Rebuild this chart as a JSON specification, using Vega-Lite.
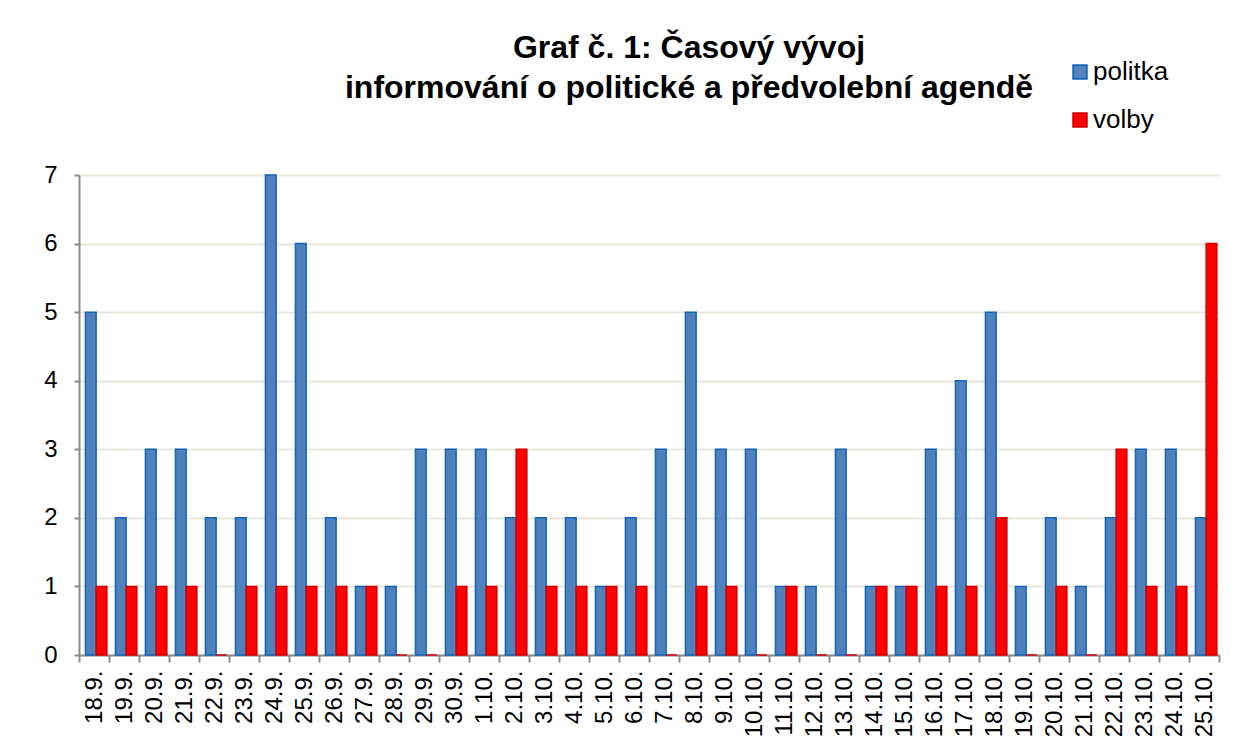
{
  "$schema": "https://vega.github.io/schema/vega-lite/v6.json",
  "width": 1140,
  "height": 480,
  "autosize": "none",
  "padding": {"left": 79, "top": 175, "right": 34, "bottom": 92},
  "background": "white",
  "config": {"font": "Liberation Sans", "view": {"stroke": null}},
  "title": {
    "text": ["Graf č. 1: Časový vývoj", "informování o politické a předvolební agendě"],
    "fontSize": 32,
    "fontWeight": "bold",
    "color": "#000000",
    "anchor": "middle",
    "frame": "group",
    "dx": 40,
    "offset": -46,
    "lineHeight": 40
  },
  "data": {
    "values": [
      {"den": "18.9.", "serie": "politka", "pocet": 5}, {"den": "18.9.", "serie": "volby", "pocet": 1},
      {"den": "19.9.", "serie": "politka", "pocet": 2}, {"den": "19.9.", "serie": "volby", "pocet": 1},
      {"den": "20.9.", "serie": "politka", "pocet": 3}, {"den": "20.9.", "serie": "volby", "pocet": 1},
      {"den": "21.9.", "serie": "politka", "pocet": 3}, {"den": "21.9.", "serie": "volby", "pocet": 1},
      {"den": "22.9.", "serie": "politka", "pocet": 2}, {"den": "22.9.", "serie": "volby", "pocet": 0},
      {"den": "23.9.", "serie": "politka", "pocet": 2}, {"den": "23.9.", "serie": "volby", "pocet": 1},
      {"den": "24.9.", "serie": "politka", "pocet": 7}, {"den": "24.9.", "serie": "volby", "pocet": 1},
      {"den": "25.9.", "serie": "politka", "pocet": 6}, {"den": "25.9.", "serie": "volby", "pocet": 1},
      {"den": "26.9.", "serie": "politka", "pocet": 2}, {"den": "26.9.", "serie": "volby", "pocet": 1},
      {"den": "27.9.", "serie": "politka", "pocet": 1}, {"den": "27.9.", "serie": "volby", "pocet": 1},
      {"den": "28.9.", "serie": "politka", "pocet": 1}, {"den": "28.9.", "serie": "volby", "pocet": 0},
      {"den": "29.9.", "serie": "politka", "pocet": 3}, {"den": "29.9.", "serie": "volby", "pocet": 0},
      {"den": "30.9.", "serie": "politka", "pocet": 3}, {"den": "30.9.", "serie": "volby", "pocet": 1},
      {"den": "1.10.", "serie": "politka", "pocet": 3}, {"den": "1.10.", "serie": "volby", "pocet": 1},
      {"den": "2.10.", "serie": "politka", "pocet": 2}, {"den": "2.10.", "serie": "volby", "pocet": 3},
      {"den": "3.10.", "serie": "politka", "pocet": 2}, {"den": "3.10.", "serie": "volby", "pocet": 1},
      {"den": "4.10.", "serie": "politka", "pocet": 2}, {"den": "4.10.", "serie": "volby", "pocet": 1},
      {"den": "5.10.", "serie": "politka", "pocet": 1}, {"den": "5.10.", "serie": "volby", "pocet": 1},
      {"den": "6.10.", "serie": "politka", "pocet": 2}, {"den": "6.10.", "serie": "volby", "pocet": 1},
      {"den": "7.10.", "serie": "politka", "pocet": 3}, {"den": "7.10.", "serie": "volby", "pocet": 0},
      {"den": "8.10.", "serie": "politka", "pocet": 5}, {"den": "8.10.", "serie": "volby", "pocet": 1},
      {"den": "9.10.", "serie": "politka", "pocet": 3}, {"den": "9.10.", "serie": "volby", "pocet": 1},
      {"den": "10.10.", "serie": "politka", "pocet": 3}, {"den": "10.10.", "serie": "volby", "pocet": 0},
      {"den": "11.10.", "serie": "politka", "pocet": 1}, {"den": "11.10.", "serie": "volby", "pocet": 1},
      {"den": "12.10.", "serie": "politka", "pocet": 1}, {"den": "12.10.", "serie": "volby", "pocet": 0},
      {"den": "13.10.", "serie": "politka", "pocet": 3}, {"den": "13.10.", "serie": "volby", "pocet": 0},
      {"den": "14.10.", "serie": "politka", "pocet": 1}, {"den": "14.10.", "serie": "volby", "pocet": 1},
      {"den": "15.10.", "serie": "politka", "pocet": 1}, {"den": "15.10.", "serie": "volby", "pocet": 1},
      {"den": "16.10.", "serie": "politka", "pocet": 3}, {"den": "16.10.", "serie": "volby", "pocet": 1},
      {"den": "17.10.", "serie": "politka", "pocet": 4}, {"den": "17.10.", "serie": "volby", "pocet": 1},
      {"den": "18.10.", "serie": "politka", "pocet": 5}, {"den": "18.10.", "serie": "volby", "pocet": 2},
      {"den": "19.10.", "serie": "politka", "pocet": 1}, {"den": "19.10.", "serie": "volby", "pocet": 0},
      {"den": "20.10.", "serie": "politka", "pocet": 2}, {"den": "20.10.", "serie": "volby", "pocet": 1},
      {"den": "21.10.", "serie": "politka", "pocet": 1}, {"den": "21.10.", "serie": "volby", "pocet": 0},
      {"den": "22.10.", "serie": "politka", "pocet": 2}, {"den": "22.10.", "serie": "volby", "pocet": 3},
      {"den": "23.10.", "serie": "politka", "pocet": 3}, {"den": "23.10.", "serie": "volby", "pocet": 1},
      {"den": "24.10.", "serie": "politka", "pocet": 3}, {"den": "24.10.", "serie": "volby", "pocet": 1},
      {"den": "25.10.", "serie": "politka", "pocet": 2}, {"den": "25.10.", "serie": "volby", "pocet": 6}
    ]
  },
  "mark": {"type": "bar", "strokeWidth": 1.5},
  "encoding": {
    "x": {
      "field": "den",
      "type": "nominal",
      "sort": null,
      "title": null,
      "scale": {"paddingInner": 0, "paddingOuter": 0},
      "axis": {
        "labelAngle": 270,
        "labelAlign": "right",
        "labelBaseline": "middle",
        "labelFontSize": 24,
        "labelColor": "#000000",
        "labelPadding": 8,
        "tickSize": 7,
        "tickBand": "extent",
        "tickColor": "#8c8c8c",
        "tickWidth": 2,
        "domainColor": "#8c8c8c",
        "domainWidth": 2,
        "grid": false
      }
    },
    "xOffset": {
      "field": "serie",
      "type": "nominal",
      "scale": {"domain": ["politka", "volby"], "paddingInner": 0, "paddingOuter": 0.4, "align": 0.75}
    },
    "y": {
      "field": "pocet",
      "type": "quantitative",
      "title": null,
      "scale": {"domain": [0, 7], "nice": false},
      "axis": {
        "values": [0, 1, 2, 3, 4, 5, 6, 7],
        "labelFontSize": 24,
        "labelColor": "#000000",
        "labelPadding": 17,
        "tickSize": 5,
        "tickColor": "#8c8c8c",
        "tickWidth": 2,
        "domainColor": "#8c8c8c",
        "domainWidth": 2,
        "gridColor": "#e9e6da",
        "gridWidth": 2
      }
    },
    "color": {
      "field": "serie",
      "type": "nominal",
      "scale": {"domain": ["politka", "volby"], "range": ["#4f81bd", "#ff0000"]},
      "legend": {
        "title": null,
        "orient": "none",
        "legendX": 988,
        "legendY": -116,
        "symbolType": "square",
        "symbolSize": 196,
        "labelFontSize": 26,
        "labelColor": "#000000",
        "labelOffset": 0,
        "rowPadding": 22
      }
    },
    "stroke": {
      "field": "serie",
      "type": "nominal",
      "scale": {"domain": ["politka", "volby"], "range": ["#1066b8", "#d40000"]},
      "legend": {
        "title": null,
        "orient": "none",
        "legendX": 988,
        "legendY": -116,
        "symbolType": "square",
        "symbolSize": 196,
        "labelFontSize": 26,
        "labelColor": "#000000",
        "labelOffset": 0,
        "rowPadding": 22
      }
    }
  }
}
